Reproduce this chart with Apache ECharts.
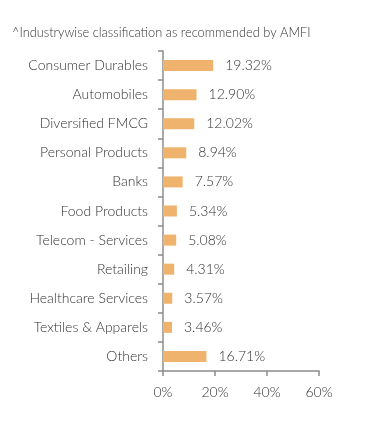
<!DOCTYPE html>
<html><head><meta charset="utf-8">
<script src="https://cdn.jsdelivr.net/npm/echarts@6/dist/echarts.min.js"></script>
<style>html,body{margin:0;padding:0;background:#fff}#c{width:391px;height:424px}</style>
</head><body><div id="c"></div>
<script>
const titleText = '^Industrywise classification as recommended by AMFI';
const categories = ['Consumer Durables','Automobiles','Diversified FMCG','Personal Products','Banks','Food Products','Telecom - Services','Retailing','Healthcare Services','Textiles & Apparels','Others'];
const values = [19.32,12.90,12.02,8.94,7.57,5.34,5.08,4.31,3.57,3.46,16.71];
const xTicks = [0,20,40,60];

const chart = echarts.init(document.getElementById('c'));
chart.setOption({
  animation:false,
  textStyle:{fontFamily:'Lato'},
  title:{text:titleText,left:7,top:21,textStyle:{fontSize:12.8,fontWeight:300,color:'#333',fontFamily:'Lato'}},
  grid:{left:163,right:72,top:51,bottom:53,containLabel:false},
  xAxis:{type:'value',min:xTicks[0],max:xTicks[xTicks.length-1],interval:20,
    axisLine:{show:true,lineStyle:{color:'#8c8c8c',width:1.5}},
    axisTick:{show:true,length:5,lineStyle:{color:'#8c8c8c',width:1.5}},
    splitLine:{show:false},
    axisLabel:{formatter:'{value}%',color:'#333',fontSize:14,fontWeight:300,margin:14,fontFamily:'Lato'}},
  yAxis:{type:'category',data:categories,inverse:true,
    axisLine:{show:true,lineStyle:{color:'#8c8c8c',width:1.5}},
    axisTick:{show:true,length:5,lineStyle:{color:'#8c8c8c',width:1.5}},
    axisLabel:{color:'#333',fontSize:14,fontWeight:300,margin:15,fontFamily:'Lato'}},
  series:[{type:'bar',data:values,barWidth:11,
    itemStyle:{color:'#F0B36D'},
    label:{show:true,position:'right',distance:12,color:'#333',fontSize:14,fontWeight:300,fontFamily:'Lato',
      formatter:p=>p.value.toFixed(2)+'%'}}]
});
</script></body></html>
